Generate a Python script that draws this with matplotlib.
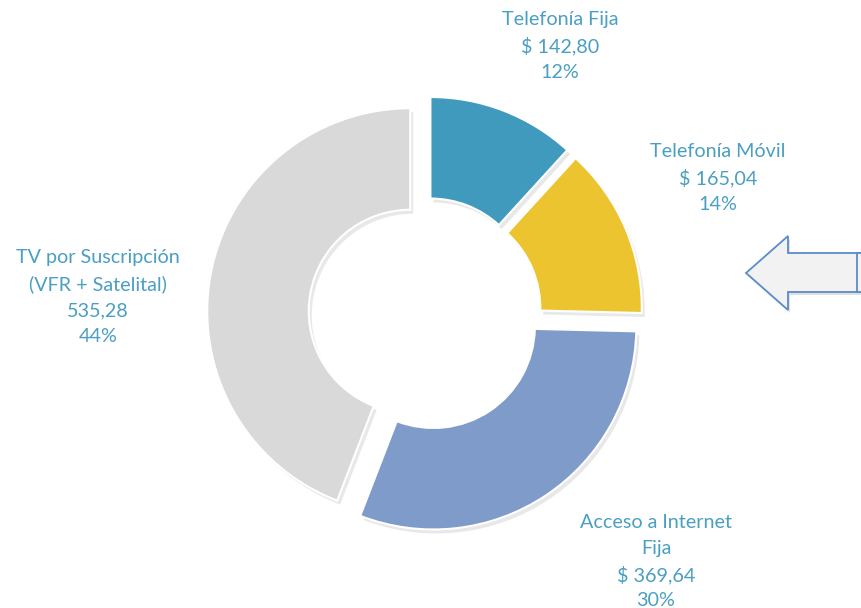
"""
Donut chart: distribución del gasto en servicios de telecomunicaciones.
"""

import matplotlib.pyplot as plt
from matplotlib.patches import Polygon, Rectangle

# Data
categories = ["Telefonía Fija", "Telefonía Móvil", "Acceso a Internet\nFija", "TV por Suscripción\n(VFR + Satelital)"]
values = [142.80, 165.04, 369.64, 535.28]
value_labels = ["$ 142,80", "$ 165,04", "$ 369,64", "535,28"]
percents = ["12%", "14%", "30%", "44%"]

colors = ["#3F9ABD", "#ECC42F", "#7F9BC9", "#D9D9D9"]
text_color = "#4A9FC2"

W, H = 862, 608
fig = plt.figure(figsize=(W / 100, H / 100), dpi=100)
ax = fig.add_axes([0, 0, 1, 1])

center = (425, H - 314)
radius = 203
explode = [15] * len(values)  # pie explode is in data units (pixels here)

# soft shadow
ax.pie(values, radius=radius, center=(center[0] + 3, center[1] - 4), startangle=90,
       counterclock=False, explode=explode, colors=["#BFBFBF"] * 4,
       wedgeprops=dict(width=radius * 0.5, linewidth=0, alpha=0.35), frame=True)
ax.pie(values, radius=radius, center=center, startangle=90, counterclock=False,
       explode=explode, colors=colors,
       wedgeprops=dict(width=radius * 0.5, edgecolor="white", linewidth=1.5),
       frame=True)
ax.set_xlim(0, W)
ax.set_ylim(0, H)
ax.set_aspect("equal")
ax.axis("off")

# labels (manual positions like the original), one text per line, fixed spacing
label_pos = [(560, 20), (718, 152), (656, 522), (98, 258)]
line_step = 26.3
for cat, val, pct, (x, y) in zip(categories, value_labels, percents, label_pos):
    lines = cat.split("\n") + [val, pct]
    for i, line in enumerate(lines):
        ax.text(x, H - (y + i * line_step), line, ha="center", va="center",
                color=text_color, fontsize=14.2, family="Lato")

# block arrow on the right
arrow_pts = [(746, 273), (788, 236), (788, 253), (870, 253), (870, 292), (788, 292), (788, 310)]
shadow = Polygon([(x + 2, H - y - 3) for x, y in arrow_pts], closed=True,
                 facecolor="#CCCCCC", edgecolor="none", alpha=0.6)
ax.add_patch(shadow)
arrow = Polygon([(x, H - y) for x, y in arrow_pts], closed=True,
                facecolor="#F2F2F2", edgecolor="#5B8CC8", linewidth=1.3)
ax.add_patch(arrow)
ax.add_patch(Rectangle((857, H - 292), 20, 39, facecolor="#F2F2F2",
                       edgecolor="#5B8CC8", linewidth=1.3))

fig.savefig("out.png", dpi=100)
